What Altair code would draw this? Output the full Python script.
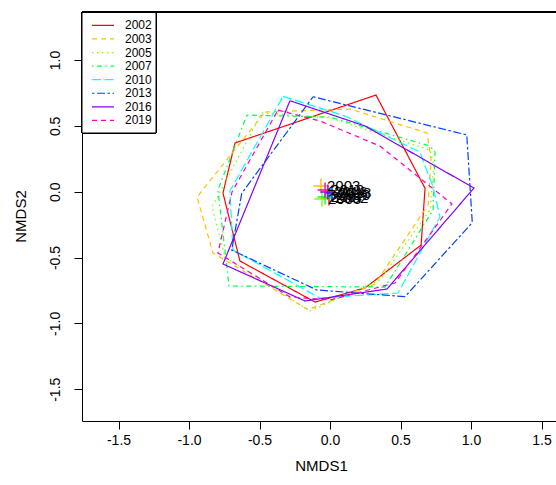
import altair as alt
import pandas as pd

years = ["2002", "2003", "2005", "2007", "2010", "2013", "2016", "2019"]
colors = ["#FF0000", "#FFBF00", "#80FF00", "#00FF40", "#00FFFF", "#0040FF", "#8000FF", "#FF00BF"]
dashes = [[1, 0], [5, 4], [1.5, 3.5], [1.5, 3.5, 5, 3.5], [9, 3.5], [2.5, 2.5, 8, 2.5], [1, 0], [5, 4]]

# hull vertices (NMDS1, NMDS2) per year
hx_2002 = [-0.674, 0.326, 0.674, 0.646, 0.248, -0.106, -0.639, -0.759]
hy_2002 = [0.370, 0.734, 0.026, -0.405, -0.731, -0.838, -0.526, -0.010]
hx_2003 = [-0.461, 0.142, 0.688, 0.717, 0.695, 0.319, -0.156, -0.830, -0.943]
hy_2003 = [0.605, 0.628, 0.446, 0.241, -0.101, -0.701, -0.895, -0.465, -0.040]
hx_2005 = [-0.483, 0.000, 0.709, 0.737, 0.709, 0.354, -0.142, -0.745, -0.837]
hy_2005 = [0.598, 0.560, 0.317, 0.203, -0.139, -0.670, -0.906, -0.496, -0.116]
hx_2007 = [-0.589, 0.000, 0.709, 0.745, 0.731, 0.390, -0.716, -0.795]
hy_2007 = [0.582, 0.567, 0.347, 0.302, -0.139, -0.724, -0.716, 0.013]
hx_2010 = [-0.333, 0.107, 0.638, 0.731, 0.780, 0.482, -0.071, -0.688, -0.710]
hy_2010 = [0.724, 0.575, 0.301, 0.036, -0.192, -0.769, -0.807, -0.443, 0.005]
hx_2013 = [-0.120, 0.970, 1.009, 0.532, -0.094, -0.697, -0.626]
hy_2013 = [0.721, 0.431, -0.235, -0.797, -0.746, -0.443, -0.012]
hx_2016 = [-0.284, 0.248, 1.021, 0.404, -0.177, -0.759]
hy_2016 = [0.691, 0.499, 0.028, -0.739, -0.830, -0.549]
hx_2019 = [-0.369, -0.071, 0.354, 0.865, 0.461, 0.000, -0.284, -0.795, -0.695]
hy_2019 = [0.620, 0.537, 0.347, -0.093, -0.693, -0.822, -0.799, -0.465, -0.002]

# group centroids
cent_x = [-0.007, -0.064, -0.057, -0.035, 0.007, 0.014, -0.015, -0.035]
cent_y = [-0.048, 0.043, -0.055, -0.040, -0.025, -0.010, -0.002, 0.013]

x_ticks = [-1.5, -1.0, -0.5, 0.0, 0.5, 1.0, 1.5]
y_ticks = [-1.5, -1.0, -0.5, 0.0, 0.5, 1.0]

hull_x = [hx_2002, hx_2003, hx_2005, hx_2007, hx_2010, hx_2013, hx_2016, hx_2019]
hull_y = [hy_2002, hy_2003, hy_2005, hy_2007, hy_2010, hy_2013, hy_2016, hy_2019]

rows = []
for yr, xs_, ys_ in zip(years, hull_x, hull_y):
    n = len(xs_)
    for i in range(n + 1):
        rows.append({"year": yr, "i": i, "x": xs_[i % n], "y": ys_[i % n]})
hull_df = pd.DataFrame(rows)
cent_df = pd.DataFrame({"year": years, "x": cent_x, "y": cent_y})
leg_df = pd.DataFrame({"year": years, "row": list(range(len(years)))})

FONT = "Liberation Sans"
W, H = 474, 409
xscale = alt.Scale(domain=[-1.7589, 1.6028], nice=False, zero=False)
yscale = alt.Scale(domain=[-1.7411, 1.3645], nice=False, zero=False)
cscale = alt.Scale(domain=years, range=colors)
dscale = alt.Scale(domain=years, range=dashes)

lab_expr = "datum.value < 0 ? '-' + format(-datum.value, '.1f') : format(datum.value, '.1f')"

xaxis = alt.Axis(values=x_ticks, labelExpr=lab_expr, grid=False, tickSize=8,
                 tickColor="black", domainColor="black", labelColor="black",
                 labelFont=FONT, labelFontSize=14, labelPadding=4,
                 titleFont=FONT, titleFontSize=15, titleFontWeight="normal",
                 titleColor="black", titleX=239, titleY=44, titleAlign="center",
                 titleBaseline="middle")
yaxis = alt.Axis(values=y_ticks, labelExpr=lab_expr, grid=False, tickSize=8,
                 tickColor="black", domainColor="black", labelColor="black",
                 labelFont=FONT, labelFontSize=14, labelPadding=12, labelAngle=270,
                 labelAlign="center", labelBaseline="bottom",
                 titleFont=FONT, titleFontSize=15, titleFontWeight="normal",
                 titleColor="black", titleX=-62, titleY=204, titleAngle=270,
                 titleAlign="center", titleBaseline="middle")

hulls = alt.Chart(hull_df).mark_line(strokeWidth=1.2, clip=True).encode(
    x=alt.X("x:Q", scale=xscale, axis=xaxis, title="NMDS1"),
    y=alt.Y("y:Q", scale=yscale, axis=yaxis, title="NMDS2"),
    color=alt.Color("year:N", scale=cscale, legend=None),
    strokeDash=alt.StrokeDash("year:N", scale=dscale, legend=None),
    detail="year:N",
    order="i:Q",
)

crosses = alt.Chart(cent_df).mark_point(shape="M-1,0L1,0M0,-1L0,1", filled=False,
                                        size=225, strokeWidth=1.4, opacity=1).encode(
    x=alt.X("x:Q", scale=xscale),
    y=alt.Y("y:Q", scale=yscale),
    color=alt.Color("year:N", scale=cscale, legend=None),
)

labels = alt.Chart(cent_df).mark_text(align="left", baseline="middle", dx=6,
                                      fontSize=15, font=FONT, color="black").encode(
    x=alt.X("x:Q", scale=xscale),
    y=alt.Y("y:Q", scale=yscale),
    text="year:N",
)

leg_box = alt.Chart(leg_df).mark_rect(fill="white", stroke="black", strokeWidth=1).encode(
    x=alt.value(0), x2=alt.value(74), y=alt.value(0), y2=alt.value(121)
)

leg_lines = alt.Chart(leg_df).transform_calculate(
    ly="13.4 + datum.row * 13.57"
).mark_rule(strokeWidth=1.2).encode(
    x=alt.value(10), x2=alt.value(32),
    y=alt.Y("ly:Q", scale=None),
    color=alt.Color("year:N", scale=cscale, legend=None),
    strokeDash=alt.StrokeDash("year:N", scale=dscale, legend=None),
)

leg_text = alt.Chart(leg_df).transform_calculate(
    ly="13.4 + datum.row * 13.57"
).mark_text(align="left", baseline="middle", fontSize=12, font=FONT, color="black").encode(
    x=alt.value(43),
    y=alt.Y("ly:Q", scale=None),
    text="year:N",
)

top_border = alt.Chart(leg_df).mark_rule(color="black", strokeWidth=1).encode(
    x=alt.value(0), x2=alt.value(W), y=alt.value(0)
)

chart = alt.layer(hulls, crosses, labels, leg_box, leg_lines, leg_text, top_border).properties(
    width=W, height=H,
    autosize=alt.AutoSizeParams(type="none"),
    padding={"left": 82, "top": 12, "right": 0, "bottom": 64},
    background="white",
).configure_view(stroke=None)

chart.save("out.html", embed_options={"renderer": "svg", "actions": False})
